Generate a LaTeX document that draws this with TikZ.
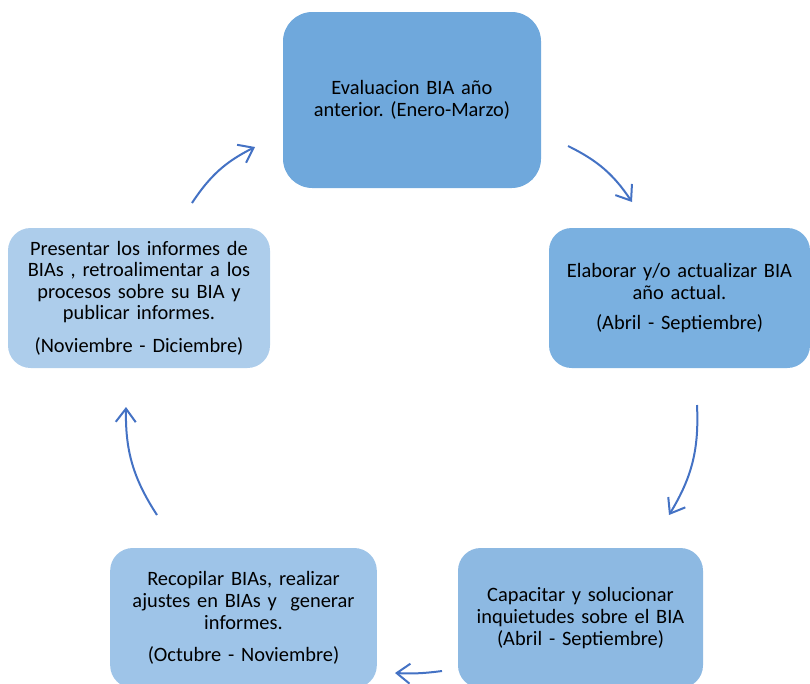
\documentclass[tikz,border=0pt]{standalone}
\usepackage{fontspec}
\setmainfont{Carlito}
\usetikzlibrary{arrows.meta}
\definecolor{boxA}{RGB}{111,168,220}
\definecolor{boxB}{RGB}{122,176,224}
\definecolor{boxC}{RGB}{141,185,226}
\definecolor{boxD}{RGB}{158,196,232}
\definecolor{boxE}{RGB}{173,205,235}
\definecolor{flecha}{RGB}{68,114,196}
\frenchspacing
\begin{document}
\begin{tikzpicture}[x=0.75pt,y=-0.75pt,
	paso/.style={rounded corners=17pt,inner sep=0pt,align=center,text width=#1,
		font=\fontsize{15.3}{16.2}\selectfont},
	ciclo/.style={draw=flecha,line width=1.5pt,-{Straight Barb[length=10pt,width=15pt,line width=1.5pt]}}]
	\path[use as bounding box,clip] (0,0) rectangle (810,683);
	\node[paso=185pt,fill=boxA,minimum width=193.5pt,minimum height=132pt,rounded corners=22pt] (eval) at (412,100) {Evaluacion BIA año\\anterior. (Enero-Marzo)};
	\node[paso=192pt,fill=boxB,minimum width=195.75pt,minimum height=105pt] (elab) at (679.5,298) {Elaborar y/o actualizar BIA\\año actual.\\[6pt](Abril - Septiembre)};
	\node[paso=180pt,fill=boxC,minimum width=183.75pt,minimum height=105pt] (capa) at (580.5,618) {Capacitar y solucionar\\inquietudes sobre el BIA\\(Abril - Septiembre)\\[2pt]};
	\node[paso=198pt,fill=boxD,minimum width=200pt,minimum height=105pt] (reco) at (243.5,618) {Recopilar BIAs, realizar\\ajustes en BIAs y~ generar\\informes.\\[8pt](Octubre - Noviembre)\\[2pt]};
	\node[paso=195pt,fill=boxE,minimum width=196.5pt,minimum height=105pt] (pres) at (139,298) {Presentar los informes de\\BIAs , retroalimentar a los\\procesos sobre su BIA y\\publicar informes.\\[8pt](Noviembre - Diciembre)};
	% flechas del ciclo
	\coordinate (f1a) at (568,146); \coordinate (f1b) at (632,202);
	\coordinate (f2a) at (697,405); \coordinate (f2b) at (669,515);
	\coordinate (f3a) at (442,671); \coordinate (f3b) at (395,673);
	\coordinate (f4a) at (157,515); \coordinate (f4b) at (126,407);
	\coordinate (f5a) at (192,203); \coordinate (f5b) at (255,147);
	\draw[ciclo] (f1a) to[bend left=15] (f1b);
	\draw[ciclo] (f2a) to[bend left=17] (f2b);
	\draw[ciclo] (f3a) to[bend left=5] (f3b);
	\draw[ciclo] (f4a) to[bend left=17] (f4b);
	\draw[ciclo] (f5a) to[bend left=15] (f5b);
\end{tikzpicture}
\end{document}
